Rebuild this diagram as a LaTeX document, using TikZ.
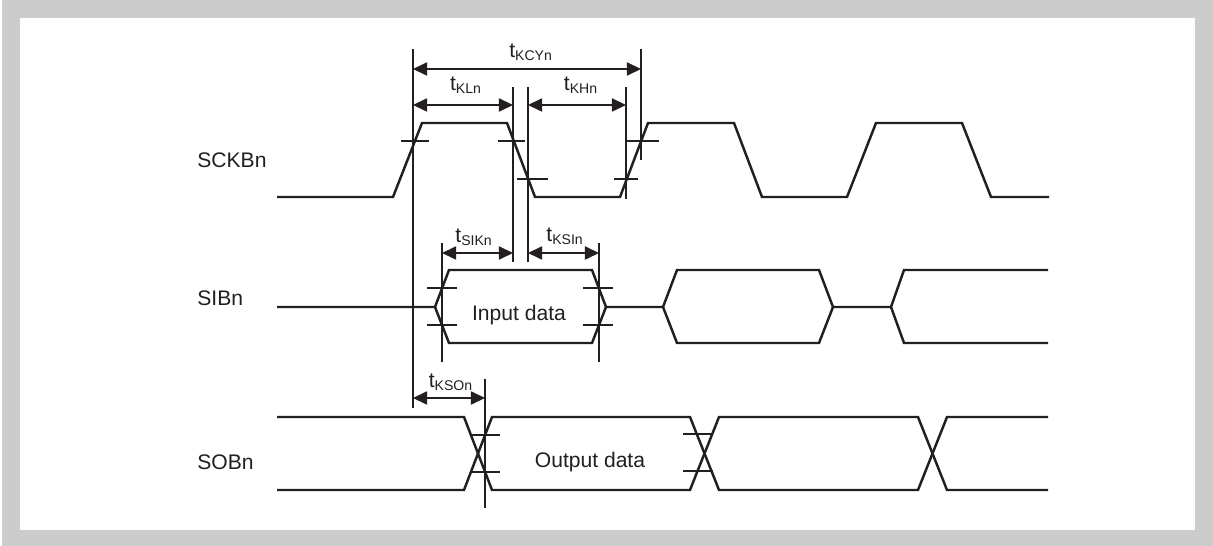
\documentclass[tikz,border=0pt]{standalone}
\usepackage{fontspec}
\setmainfont{Liberation Sans}
\usetikzlibrary{arrows.meta}

\definecolor{framegray}{HTML}{CCCCCC}
\definecolor{ink}{HTML}{231F20}

\begin{document}
\begin{tikzpicture}[x=0.02cm, y=-0.02cm, >={Triangle[length=8pt,width=7.5pt]},
  line join=miter,
  signal/.style={ink, line width=1.4pt},
  guide/.style={ink, line width=0.75pt},
  dim/.style={ink, line width=0.75pt, <->},
  lbl/.style={font=\fontsize{12}{14}\selectfont, text=ink, inner sep=0pt}]

% ---------- Frame ----------
\fill[framegray] (2,0) rectangle (1213,546);
\fill[white] (20,18) rectangle (1195,530);
\useasboundingbox (0,0) rectangle (1213,546);

% ---------- Reference lines ----------
\coordinate (ra) at (413,49);   \coordinate (ra') at (413,408);
\coordinate (rb) at (513,87);   \coordinate (rb') at (513,262);
\coordinate (rc) at (528,87);   \coordinate (rc') at (528,262);
\coordinate (rd) at (626,87);   \coordinate (rd') at (626,199);
\coordinate (re) at (641,49);   \coordinate (re') at (641,160);
\coordinate (rf) at (442,243);  \coordinate (rf') at (442,362);
\coordinate (rg) at (599,243);  \coordinate (rg') at (599,362);
\coordinate (rh) at (485,379);  \coordinate (rh') at (485,508);

\foreach \r in {ra,rb,rc,rd,re,rf,rg,rh}
  \draw[guide] (\r) -- (\r');

% ---------- SCKBn ----------
\node[lbl, anchor=west] (sck) at (197,160) {SCKBn};

\draw[signal] (277,197) -- (393,197) -- (422,123) -- (507,123) -- (535,197)
  -- (620,197) -- (648,123) -- (734,123) -- (762,197) -- (847,197)
  -- (876,123) -- (962,123) -- (991,197) -- (1049,197);

% threshold marks
\draw[guide] (401,141) -- (429,141);
\draw[guide] (498,141) -- (525,141);
\draw[guide] (517,179) -- (548,179);
\draw[guide] (614,179) -- (638,179);
\draw[guide] (627,141) -- (659,141);

% clock timings
\coordinate (ykcy) at (0,69);
\coordinate (ykl) at (0,105);
\draw[dim] (ra |- ykcy) -- (re |- ykcy);
\draw[dim] (ra |- ykl) -- (rb |- ykl);
\draw[dim] (rc |- ykl) -- (rd |- ykl);

\node[lbl] (tkcy) at (531,52) {t\textsubscript{KCYn}};
\node[lbl] (tkl) at (466,85) {t\textsubscript{KLn}};
\node[lbl] (tkh) at (581,85) {t\textsubscript{KHn}};

% ---------- SIBn ----------
\node[lbl, anchor=west] (sib) at (197,298) {SIBn};

\draw[signal] (277,307) -- (435,307) -- (449,270) -- (592,270) -- (606,307)
  -- (663,307) -- (677,270) -- (819,270) -- (833,307)
  -- (891,307) -- (904,270) -- (1048,270);
\draw[signal] (435,307) -- (449,343) -- (592,343) -- (606,307);
\draw[signal] (663,307) -- (677,343) -- (819,343) -- (833,307);
\draw[signal] (891,307) -- (904,343) -- (1048,343);

% threshold marks
\draw[guide] (427,288) -- (457,288);
\draw[guide] (427,325) -- (457,325);
\draw[guide] (583,288) -- (613,288);
\draw[guide] (583,325) -- (613,325);

% setup / hold
\coordinate (ysik) at (0,253);
\draw[dim] (rf |- ysik) -- (rb |- ysik);
\draw[dim] (rc |- ysik) -- (rg |- ysik);

\node[lbl] (tsik) at (474,237) {t\textsubscript{SIKn}};
\node[lbl] (tksi) at (565,236) {t\textsubscript{KSIn}};
\node[lbl] (din) at (519,315) {Input data};

% ---------- SOBn ----------
\node[lbl, anchor=west] (sob) at (197,462) {SOBn};

\draw[signal] (277,417) -- (464,417) -- (492,490) -- (690,490) -- (719,417)
  -- (918,417) -- (947,490) -- (1048,490);
\draw[signal] (277,490) -- (464,490) -- (492,417) -- (690,417) -- (719,490)
  -- (918,490) -- (947,417) -- (1048,417);

% threshold marks
\draw[guide] (472,435) -- (500,435);
\draw[guide] (472,472) -- (500,472);
\draw[guide] (683,434) -- (713,434);
\draw[guide] (683,471) -- (713,471);

% output delay
\coordinate (ykso) at (0,398);
\draw[dim] (ra |- ykso) -- (rh |- ykso);

\node[lbl] (tkso) at (451,382) {t\textsubscript{KSOn}};
\node[lbl] (dout) at (590,462) {Output data};

\end{tikzpicture}
\end{document}
